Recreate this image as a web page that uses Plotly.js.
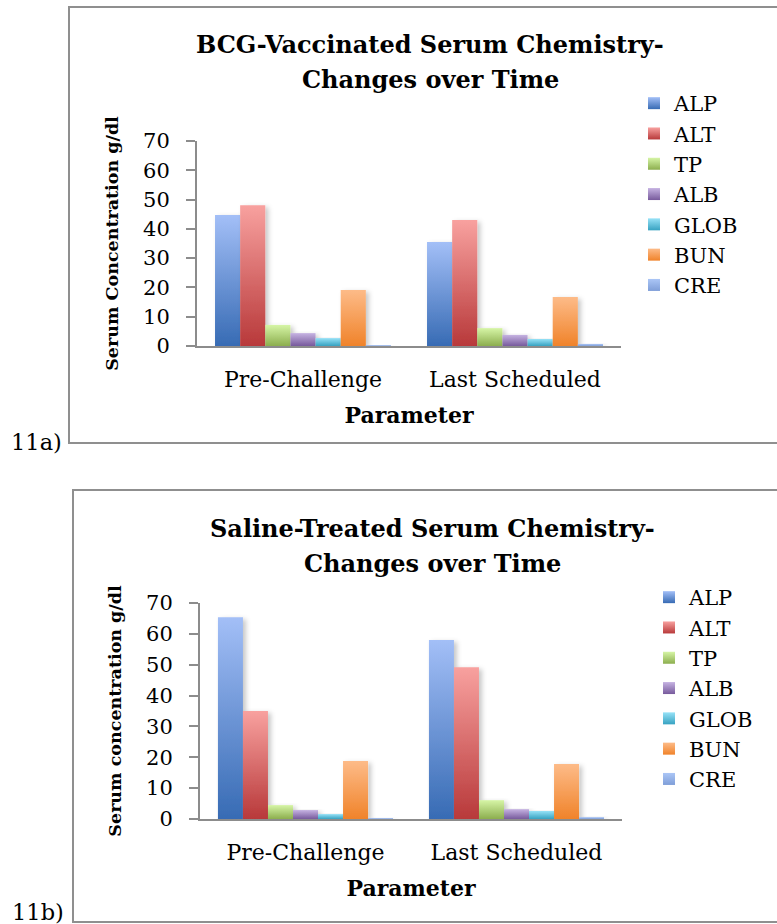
<!DOCTYPE html>
<html>
<head>
<meta charset="utf-8">
<script src="https://cdn.plot.ly/plotly-3.0.1.min.js"></script>
<style>
html,body{margin:0;padding:0;background:#fff;}
#chart{width:777px;height:924px;}
</style>
</head>
<body>
<div id="chart"></div>
<script>
// ---- data ----
const categories = ['Pre-Challenge', 'Last Scheduled'];
const params = ['ALP', 'ALT', 'TP', 'ALB', 'GLOB', 'BUN', 'CRE'];
// 11a) BCG-vaccinated
const bcgPre  = [44.7, 48.1, 7.2, 4.4, 2.7, 19.1, 0.3];
const bcgLast = [35.5, 43.0, 6.1, 3.8, 2.4, 16.7, 0.7];
// 11b) Saline-treated
const salPre  = [65.4, 35.0, 4.5, 2.9, 1.6, 18.8, 0.3];
const salLast = [58.0, 49.2, 6.1, 3.2, 2.6, 17.8, 0.6];
const yTicks = [0, 10, 20, 30, 40, 50, 60, 70];

// ---- styles ----
const colTop = ['#a3bff7', '#f8a19f', '#d6f5a6', '#c6b3e2', '#97e2f7', '#fdbb88', '#abc6f6'];
const colBot = ['#376bb4', '#b8393a', '#8cae4e', '#775a9c', '#37a2c1', '#f0832a', '#7f9ed8'];
const colMid = ['#6c94d5', '#d86d6c', '#b1d27a', '#9f87c0', '#67c2dc', '#f79f59', '#95b2e7'];

const W = 777, H = 924;
const px = v => v / W;
const py = v => 1 - v / H;

const serif = 'DejaVu Serif, Liberation Serif, serif';
const grey = '#8c8c8c';

const data = [];
params.forEach((p, i) => {
  data.push({
    type: 'bar', name: p, x: categories, y: [bcgPre[i], bcgLast[i]],
    marker: {color: colMid[i]}, xaxis: 'x', yaxis: 'y', legend: 'legend',
    hoverinfo: 'x+y+name'
  });
});
params.forEach((p, i) => {
  data.push({
    type: 'bar', name: p, x: categories, y: [salPre[i], salLast[i]],
    marker: {color: colMid[i]}, xaxis: 'x2', yaxis: 'y2', legend: 'legend2',
    hoverinfo: 'x+y+name'
  });
});

function yax(domain, anchor, title) {
  return {
    domain: domain, anchor: anchor, range: [0, 70], tickvals: yTicks,
    showgrid: false, zeroline: false, showline: true, linecolor: grey, linewidth: 2,
    ticks: 'outside', ticklen: 9, tickwidth: 2, tickcolor: grey,
    tickfont: {family: serif, size: 21, color: '#000'}, ticklabelstandoff: 12,
    title: {text: title, font: {family: serif, size: 17.5, weight: 700, color: '#000'}, standoff: 20},
    fixedrange: true
  };
}
function xax(domain, anchor) {
  return {
    domain: domain, anchor: anchor, type: 'category',
    showgrid: false, zeroline: false, showline: true, linecolor: grey, linewidth: 2,
    ticks: '', tickfont: {family: serif, size: 22, color: '#000'}, ticklabelstandoff: 13,
    title: {text: 'Parameter', font: {family: serif, size: 22, weight: 700, color: '#000'}, standoff: 16},
    fixedrange: true
  };
}
function legendAt(x, y) {
  return {
    x: x, y: y, xanchor: 'left', yanchor: 'top', xref: 'paper', yref: 'paper',
    font: {family: serif, size: 21, color: '#000'}, bgcolor: 'rgba(0,0,0,0)',
    borderwidth: 0, traceorder: 'normal', tracegroupgap: 0
  };
}
function ann(text, x, y, size, bold, extra) {
  return Object.assign({
    text: text, x: x, y: y, xref: 'paper', yref: 'paper', showarrow: false,
    xanchor: 'center', yanchor: 'middle',
    font: {family: serif, size: size, color: '#000', weight: bold ? 700 : 400}
  }, extra || {});
}

const layout = {
  width: W, height: H, margin: {l: 0, r: 0, t: 0, b: 0},
  paper_bgcolor: '#fff', plot_bgcolor: 'rgba(0,0,0,0)',
  barmode: 'group', bargap: 0.17, bargroupgap: 0, showlegend: true,
  xaxis: xax([px(197), px(621)], 'y'),
  yaxis: yax([py(346), py(141)], 'x', 'Serum Concentration g/dl'),
  xaxis2: xax([px(200), px(622)], 'y2'),
  yaxis2: yax([py(819), py(603)], 'x2', 'Serum concentration g/dl'),
  legend: legendAt(px(634), py(83)),
  legend2: legendAt(px(649), py(577)),
  shapes: [
    {type: 'rect', xref: 'paper', yref: 'paper', x0: px(69), x1: 1.05, y0: py(443), y1: py(7),
     line: {color: '#8f8f8f', width: 2}, fillcolor: 'rgba(0,0,0,0)', layer: 'below'},
    {type: 'rect', xref: 'paper', yref: 'paper', x0: px(73), x1: 1.05, y0: py(922), y1: py(490),
     line: {color: '#8f8f8f', width: 2}, fillcolor: 'rgba(0,0,0,0)', layer: 'below'}
  ],
  annotations: [
    ann('BCG-Vaccinated Serum Chemistry-', px(430), py(45), 24, true),
    ann('Changes over Time', px(430), py(80), 24, true),
    ann('Saline-Treated Serum Chemistry-', px(432), py(528), 24, true),
    ann('Changes over Time', px(432), py(563), 24, true),
    ann('11a)', px(36), py(442), 22.5, false),
    ann('11b)', px(38), py(912), 22.5, false)
  ]
};

const gd = document.getElementById('chart');
Plotly.newPlot(gd, data, layout, {displayModeBar: false, staticPlot: true}).then(() => {
  const NS = 'http://www.w3.org/2000/svg';
  const svg = gd.querySelector('.main-svg');
  let defs = svg.querySelector('defs');
  if (!defs) { defs = document.createElementNS(NS, 'defs'); svg.insertBefore(defs, svg.firstChild); }
  params.forEach((p, i) => {
    const lg = document.createElementNS(NS, 'linearGradient');
    lg.setAttribute('id', 'bargrad' + i);
    lg.setAttribute('x1', '0'); lg.setAttribute('y1', '0');
    lg.setAttribute('x2', '0'); lg.setAttribute('y2', '1');
    [[0, colTop[i]], [1, colBot[i]]].forEach(([o, c]) => {
      const s = document.createElementNS(NS, 'stop');
      s.setAttribute('offset', o); s.setAttribute('stop-color', c);
      lg.appendChild(s);
    });
    defs.appendChild(lg);
  });
  const f = document.createElementNS(NS, 'filter');
  f.setAttribute('id', 'barshadow');
  f.setAttribute('x', '-20%'); f.setAttribute('y', '-10%');
  f.setAttribute('width', '160%'); f.setAttribute('height', '125%');
  const ds = document.createElementNS(NS, 'feDropShadow');
  ds.setAttribute('dx', '3'); ds.setAttribute('dy', '2');
  ds.setAttribute('stdDeviation', '2.5');
  ds.setAttribute('flood-color', '#000'); ds.setAttribute('flood-opacity', '0.22');
  f.appendChild(ds); defs.appendChild(f);

  gd.querySelectorAll('.barlayer .trace').forEach((t, k) => {
    const i = k % params.length;
    t.querySelectorAll('path').forEach(p => {
      p.style.fill = 'url(#bargrad' + i + ')';
      p.setAttribute('filter', 'url(#barshadow)');
    });
  });
  gd.querySelectorAll('g.legend .traces, g.legend2 .traces').forEach((t, k) => {
    const i = k % params.length;
    t.querySelectorAll('.legendpoints path').forEach(p => {
      p.style.fill = 'url(#bargrad' + i + ')';
    });
  });
});
</script>
</body>
</html>
